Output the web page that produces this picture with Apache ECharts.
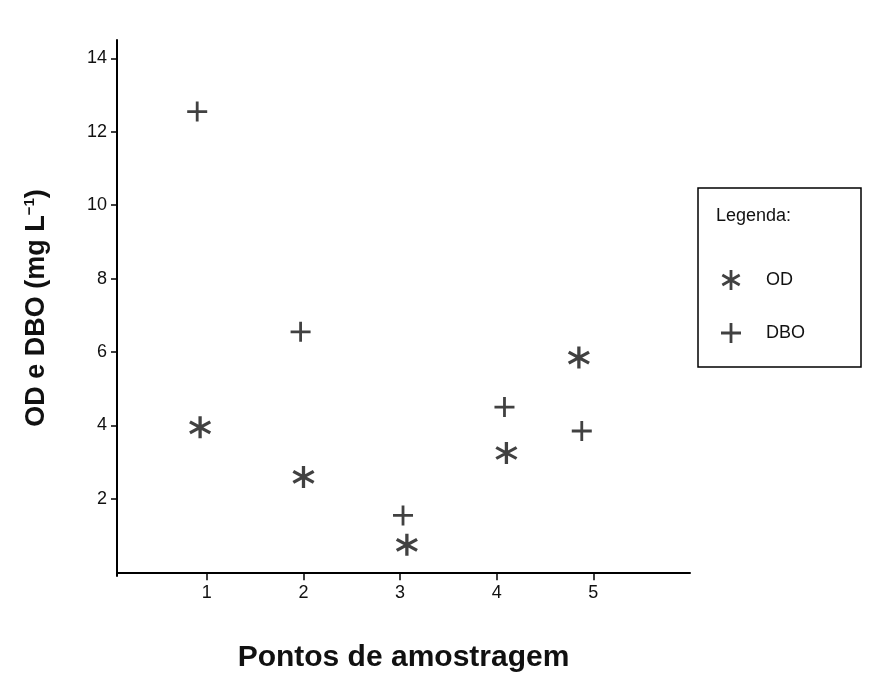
<!DOCTYPE html>
<html><head><meta charset="utf-8">
<script src="https://cdn.jsdelivr.net/npm/echarts@6/dist/echarts.min.js"></script>
<style>html,body{margin:0;padding:0;background:#fff}#c{width:876px;height:678px}</style>
</head><body><div id="c"></div>
<script>
const xTicks=[1,2,3,4,5];
const yTicks=[2,4,6,8,10,12,14];
const odX=[0.93,2.0,3.07,4.1,4.85];
const odY=[3.95,2.6,0.75,3.25,5.85];
const dboX=[0.9,1.97,3.03,4.08,4.88];
const dboY=[12.55,6.55,1.55,4.5,3.85];
const ast='path://M-1.4,-10L1.4,-10L1.4,10L-1.4,10Z M7.96,-6.21L9.36,-3.79L-7.96,6.21L-9.36,3.79Z M-9.36,-3.79L-7.96,-6.21L9.36,3.79L7.96,6.21Z';
const plus='path://M-1.4,-10L1.4,-10L1.4,-1.4L10,-1.4L10,1.4L1.4,1.4L1.4,10L-1.4,10L-1.4,1.4L-10,1.4L-10,-1.4L-1.4,-1.4Z';
const ch=echarts.init(document.getElementById('c'));
const F='Liberation Sans, Arial, sans-serif';
ch.setOption({
 animation:false,
 grid:{left:117,right:186,top:40,bottom:100},
 xAxis:{type:'value',min:0.07,max:6,interval:1,
  axisLine:{lineStyle:{color:'#000',width:2}},
  axisTick:{show:true,length:8,lineStyle:{color:'#000',width:1.5},customValues:xTicks},
  axisLabel:{color:'#111',fontSize:18,fontFamily:F,customValues:xTicks},
  splitLine:{show:false},
  name:'Pontos de amostragem',nameLocation:'middle',nameGap:67,
  nameTextStyle:{fontSize:30,fontWeight:'bold',color:'#111',fontFamily:F}},
 yAxis:{type:'value',min:-0.1,max:14.5,
  axisLine:{show:true,lineStyle:{color:'#000',width:2}},
  axisTick:{show:true,length:6,lineStyle:{color:'#000',width:1.5},customValues:yTicks},
  axisLabel:{color:'#111',fontSize:18,fontFamily:F,margin:10,customValues:yTicks},
  splitLine:{show:false},
  name:'{a|OD e DBO (mg L}{s|−1}{a|)}',nameLocation:'middle',nameGap:66,
  nameTextStyle:{rich:{a:{fontSize:27,fontWeight:'bold',color:'#111',fontFamily:F},
   s:{fontSize:15,fontWeight:'bold',color:'#111',fontFamily:F,verticalAlign:'top',padding:[0,0,14,0]}}}},
 legend:{orient:'vertical',left:716,top:265,itemGap:33,itemWidth:20,itemHeight:20,
  textStyle:{fontSize:18,color:'#111',fontFamily:F,padding:[0,0,0,20]},
  data:['OD','DBO']},
 graphic:[
  {type:'rect',shape:{x:698,y:188,width:163,height:179},style:{fill:'none',stroke:'#000',lineWidth:1.5}},
  {type:'text',left:716,top:207,style:{text:'Legenda:',fontSize:18,fill:'#111',fontFamily:F}}
 ],
 series:[
  {name:'OD',type:'scatter',symbol:ast,symbolSize:22,itemStyle:{color:'#111'},
   data:odX.map((x,i)=>[x,odY[i]])},
  {name:'DBO',type:'scatter',symbol:plus,symbolSize:20,itemStyle:{color:'#111'},
   data:dboX.map((x,i)=>[x,dboY[i]])}
 ]
});
</script></body></html>
